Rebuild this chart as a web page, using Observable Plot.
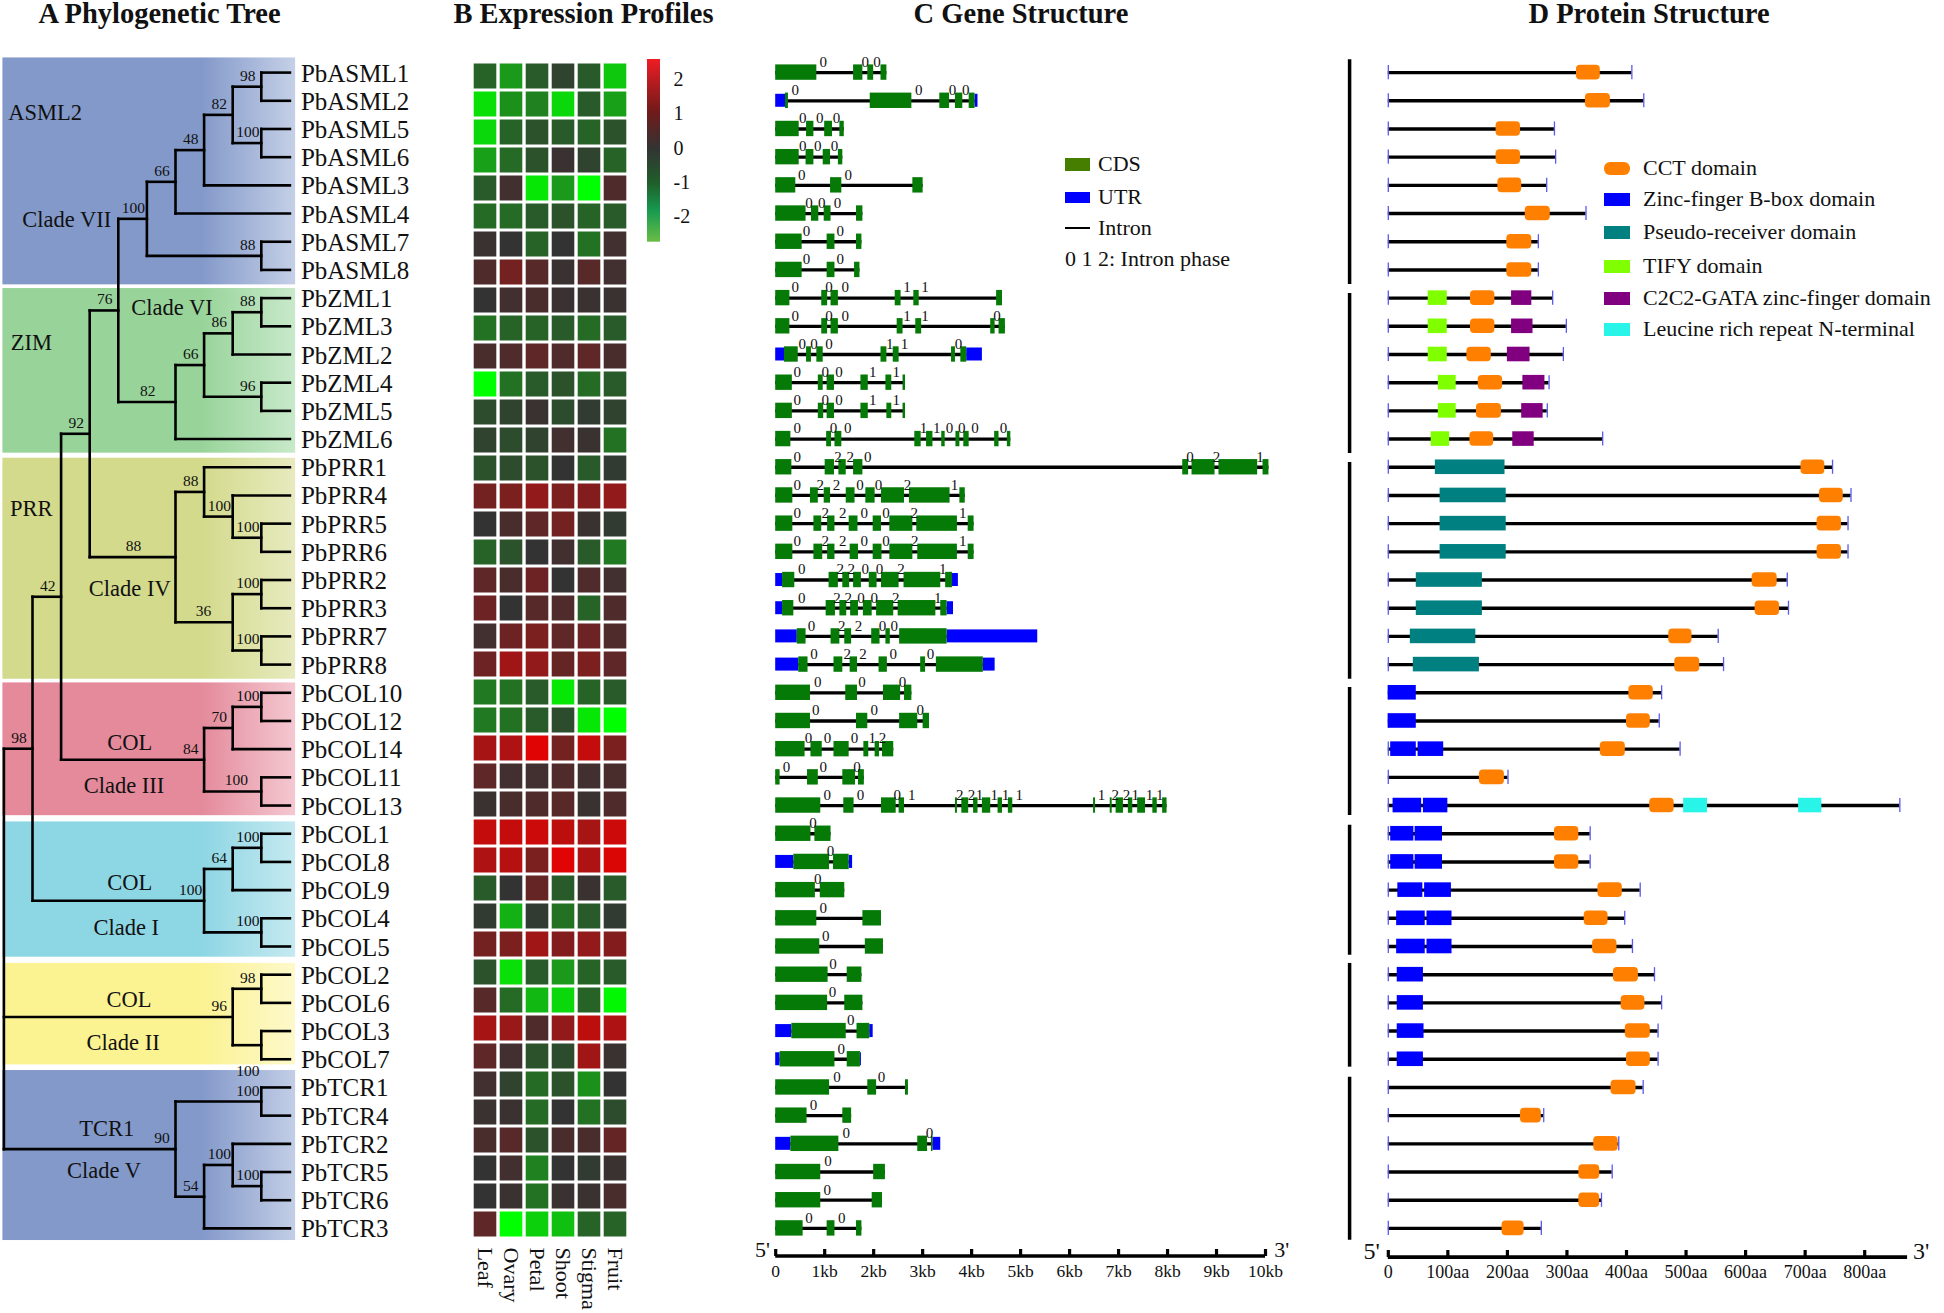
<!DOCTYPE html>
<html><head><meta charset="utf-8">
<script src="https://cdn.jsdelivr.net/npm/d3@7"></script>
<script src="https://cdn.jsdelivr.net/npm/@observablehq/plot@0.6"></script>
<style>
html,body{margin:0;padding:0;background:#fff;width:1944px;height:1313px;overflow:hidden;font-family:"Liberation Serif",serif;color:#111}
#page{position:relative;width:1944px;height:1313px}
.panel{position:absolute;top:0}
.title{position:absolute;top:-3px;transform:translateX(-50%);font-weight:bold;font-size:28.5px;white-space:nowrap;line-height:34px}
.lg{position:absolute;font-size:22px;line-height:26px;white-space:nowrap}
.sw{position:absolute}
</style></head><body><div id="page"></div>
<script>
// ---------- rows ----------
const genes = ["PbASML1","PbASML2","PbASML5","PbASML6","PbASML3","PbASML4","PbASML7","PbASML8",
"PbZML1","PbZML3","PbZML2","PbZML4","PbZML5","PbZML6",
"PbPRR1","PbPRR4","PbPRR5","PbPRR6","PbPRR2","PbPRR3","PbPRR7","PbPRR8",
"PbCOL10","PbCOL12","PbCOL14","PbCOL11","PbCOL13","PbCOL1","PbCOL8","PbCOL9","PbCOL4","PbCOL5",
"PbCOL2","PbCOL6","PbCOL3","PbCOL7","PbTCR1","PbTCR4","PbTCR2","PbTCR5","PbTCR6","PbTCR3"];
const titles = [["A Phylogenetic Tree",159.5],["B Expression Profiles",583.5],["C Gene Structure",1021],["D Protein Structure",1649]];

// ---------- A: tree  [level, bootstrap, children, label shift in levels, label below] ----------
const N = (level, support, kids, shift = 0, below = false) => ({level, support, kids, shift, below});
const treeRoot = N(0, "", [
  N(1, "98", [
    N(2, "42", [
      N(3, "92", [
        N(4, "76", [
          N(5, "100", [
            N(6, "66", [
              N(7, "48", [
                N(8, "82", [N(9, "98", ["PbASML1","PbASML2"]), N(9, "100", ["PbASML5","PbASML6"])]),
                "PbASML3"]),
              "PbASML4"]),
            N(9, "88", ["PbASML7","PbASML8"])]),
          N(6, "82", [
            N(7, "66", [
              N(8, "86", [N(9, "88", ["PbZML1","PbZML3"]), "PbZML2"]),
              N(9, "96", ["PbZML4","PbZML5"])]),
            "PbZML6"], -0.5)]),
        N(6, "88", [
          N(7, "88", ["PbPRR1", N(8, "100", ["PbPRR4", N(9, "100", ["PbPRR5","PbPRR6"])])]),
          N(8, "36", [N(9, "100", ["PbPRR2","PbPRR3"]), N(9, "100", ["PbPRR7","PbPRR8"])], -0.55)], -1)]),
      N(7, "84", [
        N(8, "70", [N(9, "100", ["PbCOL10","PbCOL12"]), "PbCOL14"]),
        N(9, "100", ["PbCOL11","PbCOL13"], -0.4)])]),
    N(7, "100", [
      N(8, "64", [N(9, "100", ["PbCOL1","PbCOL8"]), "PbCOL9"]),
      N(9, "100", ["PbCOL4","PbCOL5"])])]),
  N(8, "96", [N(9, "98", ["PbCOL2","PbCOL6"]), N(9, "100", ["PbCOL3","PbCOL7"], 0, true)]),
  N(6, "90", [
    N(9, "100", ["PbTCR1","PbTCR4"]),
    N(7, "54", [N(8, "100", ["PbTCR2", N(9, "100", ["PbTCR5","PbTCR6"])]), "PbTCR3"])])
]);
// clade backgrounds: top row, bottom row, solid colour, faded colour
const cladeBands = [
  [-0.52, 7.53, "#8399ca", "#c5d0e7"],
  [7.66, 13.5, "#98d49a", "#c8e9ca"],
  [13.68, 21.52, "#d3da8b", "#e7eabf"],
  [21.65, 26.36, "#e48a9b", "#f4c8d1"],
  [26.58, 31.38, "#8dd6e4", "#c5e9f0"],
  [31.6, 35.2, "#fbf292", "#fdf9cb"],
  [35.4, 41.43, "#8399ca", "#c3cee6"]];
// clade captions: text, level, row
const cladeText = [
  ["ASML2",1.44,1.42],["Clade VII",2.2,5.21],["ZIM",0.96,9.57],["Clade VI",5.88,8.33],
  ["PRR",0.96,15.46],["Clade IV",4.4,18.3],["COL",4.4,23.76],["Clade III",4.2,25.29],
  ["COL",4.4,28.73],["Clade I",4.28,30.33],["COL",4.37,32.88],["Clade II",4.17,34.41],
  ["TCR1",3.6,37.47],["Clade V",3.5,38.96]];

// ---------- B: expression (log scale) ----------
const tissues = ["Leaf","Ovary","Petal","Shoot","Stigma","Fruit"];
const expression = [
[-0.6,-1.3,-0.5,-0.2,-0.5,-1.9],[-2.2,-1.2,-1.0,-2.1,-0.5,-1.4],[-2.1,-0.6,-0.4,-0.5,-0.6,-0.4],[-1.4,-0.7,-0.4,0.1,-0.2,-0.6],
[-0.5,0.2,-2.3,-1.3,-2.6,0.4],[-0.7,-0.7,-0.5,-0.4,-0.6,-0.5],[0.1,0.0,-0.6,0.0,-0.8,0.2],[0.4,0.9,0.5,0.1,0.5,0.2],
[0,0.2,0.3,0.1,0.1,0.1],[-0.8,-0.6,-0.6,-0.5,-0.7,-0.5],[0.3,0.4,0.6,0.4,0.6,0.3],[-2.6,-0.8,-0.5,-0.4,-0.7,-0.5],
[-0.3,-0.2,0.1,-0.3,-0.1,-0.2],[-0.2,-0.3,-0.2,0.2,0.1,-0.8],
[-0.4,-0.3,-0.4,0,-0.5,-0.1],[0.9,1.0,1.3,1.0,1.1,1.3],[0,0.3,0.6,0.9,0.1,-0.1],[-0.6,-0.4,0,0.2,-0.5,-0.9],
[0.6,0.3,0.8,0,0.4,0.2],[0.8,0,0.5,0.4,-0.6,0.4],[0.2,0.8,1.0,0.6,0.8,0.4],[0.8,1.5,1.3,0.7,1.0,0.6],
[-0.9,-0.8,-0.5,-2.3,-0.6,-0.5],[-0.9,-0.8,-0.5,-0.3,-2.3,-2.6],[1.6,1.7,2.4,0.9,2.0,1.0],[0.6,0.2,0.2,0.4,0.2,0.3],[0.1,0.3,0.4,0.5,0.1,0.4],
[2.0,2.0,2.1,1.9,1.6,2.1],[1.7,1.8,1.0,2.4,1.7,2.3],[-0.5,0,0.7,-0.5,0.1,-0.5],[-0.1,-1.6,-0.1,-0.8,-0.5,-0.1],[0.9,1.0,1.5,1.1,1.3,1.1],
[-0.4,-2.2,-0.5,-1.3,-0.6,-0.5],[0.5,-0.7,-1.7,-2.1,-0.6,-2.5],[1.6,1.4,0.4,1.3,1.9,1.7],[0.6,0.2,-0.4,-0.3,1.5,0.1],
[0.2,-0.2,-0.7,-0.4,-1.2,0],[0.1,0.1,-0.7,0,-0.8,-0.3],[0.3,0.5,-0.4,0.3,0.3,0.7],[0,0.2,-1.0,0,-0.1,0.1],[0,0.1,-0.8,0.1,0.1,0.3],[0.6,-2.6,-2.0,-1.8,-0.6,-0.6]];
const colorbarTicks = [-2,-1,0,1,2];

// ---------- C: gene structure (kb) ----------
const geneExons = [
[[0,.84],[1.59,1.78],[1.88,2],[2.15,2.27]],
[[.2,.26],[1.93,2.78],[3.35,3.55],[3.67,3.82],[3.95,4.07]],
[[0,.48],[.63,.78],[1,1.16],[1.31,1.4]],
[[0,.48],[.62,.78],[.97,1.12],[1.28,1.37]],
[[0,.41],[1.12,1.35],[2.8,3.01]],
[[0,.62],[.73,.88],[.99,1.13],[1.65,1.78]],
[[0,.54],[1.05,1.21],[1.65,1.76]],
[[0,.54],[1.05,1.21],[1.61,1.72]],
[[0,.29],[.94,1.06],[1.13,1.28],[2.44,2.56],[2.82,2.93],[4.51,4.63]],
[[0,.29],[.94,1.06],[1.13,1.28],[2.48,2.6],[2.86,2.98],[4.39,4.48],[4.56,4.69]],
[[.18,.46],[.63,.73],[.84,.97],[2.15,2.27],[2.4,2.52],[3.59,3.67],[3.78,3.9]],
[[0,.34],[.87,.97],[1.05,1.2],[1.74,1.89],[2.25,2.37],[2.6,2.65]],
[[0,.34],[.87,.98],[1.05,1.2],[1.74,1.89],[2.27,2.37],[2.6,2.65]],
[[0,.31],[1.04,1.14],[1.21,1.35],[2.84,2.97],[3.08,3.21],[3.39,3.46],[3.68,3.76],[3.84,3.95],[4.47,4.56],[4.73,4.8]],
[[0,.33],[1.01,1.2],[1.29,1.44],[1.59,1.78],[8.31,8.43],[8.5,8.97],[9.05,9.84],[9.95,10.07]],
[[0,.35],[.71,.87],[.99,1.12],[1.44,1.62],[1.84,2.03],[2.16,2.63],[2.73,3.56],[3.76,3.87]],
[[0,.35],[.78,.94],[1.06,1.21],[1.5,1.68],[1.99,2.16],[2.33,2.8],[2.88,3.71],[3.93,4.05]],
[[0,.35],[.78,.96],[1.06,1.21],[1.52,1.69],[1.99,2.17],[2.33,2.8],[2.9,3.71],[3.93,4.05]],
[[.14,.39],[1.09,1.28],[1.37,1.51],[1.59,1.75],[1.91,2.07],[2.16,2.52],[2.62,3.37],[3.47,3.61]],
[[.14,.37],[1.03,1.22],[1.31,1.45],[1.53,1.69],[1.79,1.97],[2.06,2.41],[2.5,3.27],[3.37,3.5]],
[[.44,.62],[1.13,1.31],[1.41,1.55],[1.96,2.13],[2.25,2.34],[2.53,3.5]],
[[.47,.66],[1.19,1.37],[1.52,1.67],[2.11,2.28],[2.96,3.06],[3.28,4.24]],
[[0,.71],[1.43,1.67],[2.2,2.55],[2.63,2.78]],
[[0,.71],[1.65,1.88],[2.53,2.9],[3.01,3.14]],
[[0,.6],[.72,.95],[1.19,1.5],[1.8,1.9],[2.03,2.12],[2.18,2.41]],
[[0,.09],[.65,.87],[1.37,1.63],[1.69,1.81]],
[[0,.92],[1.39,1.6],[2.16,2.46],[2.52,2.63],[3.67,3.71],[3.8,3.94],[4.04,4.13],[4.22,4.39],[4.54,4.63],[4.75,4.84],[6.49,6.53],[6.83,6.87],[6.95,7.1],[7.2,7.29],[7.39,7.55],[7.7,7.79],[7.9,7.99]],
[[0,.72],[.8,1.13]],
[[.37,1.1],[1.18,1.5]],
[[0,.81],[.91,1.41]],
[[0,.84],[1.78,2.16]],
[[0,.9],[1.83,2.2]],
[[0,1.07],[1.46,1.76]],
[[0,1.06],[1.41,1.78]],
[[.33,1.44],[1.66,1.92]],
[[.09,1.21],[1.46,1.73]],
[[0,1.1],[1.88,2.06],[2.65,2.71]],
[[0,.64],[1.37,1.55]],
[[.31,1.29],[2.9,3.1],[3.18,3.21]],
[[0,.92],[2,2.24]],
[[0,.92],[1.97,2.18]],
[[0,.56],[1.05,1.21],[1.65,1.76]]];
// UTR: [gene, start, end]
const geneUtrs = [["PbASML2",0,.2],["PbASML2",4.07,4.13],["PbZML2",0,.18],["PbZML2",3.9,4.22],
["PbPRR2",0,.14],["PbPRR2",3.61,3.73],["PbPRR3",0,.14],["PbPRR3",3.5,3.63],["PbPRR7",0,.44],["PbPRR7",3.5,5.35],
["PbPRR8",0,.47],["PbPRR8",4.24,4.48],["PbCOL8",0,.37],["PbCOL8",1.5,1.57],["PbCOL3",0,.33],["PbCOL3",1.92,1.99],
["PbCOL7",0,.09],["PbCOL7",1.73,1.75],["PbTCR2",0,.31],["PbTCR2",3.21,3.37]];
const phasePositions = [
[.97,1.83,2.07],[.4,2.92,3.61,3.88],[.55,.9,1.24],[.55,.86,1.2],[.53,1.48],[.68,.94,1.26],[.63,1.32],[.63,1.32],
[.4,1.09,1.42,2.68,3.05],[.4,1.09,1.42,2.68,3.05,4.52],[.54,.78,1.09,2.33,2.63,3.73],[.44,1.01,1.29,1.98,2.46],[.44,1.01,1.29,1.98,2.46],
[.44,1.18,1.47,3.02,3.29,3.55,3.8,4.07,4.65],
[.44,1.27,1.52,1.88,8.46,9,9.89],[.44,.91,1.24,1.72,2.1,2.69,3.65],[.44,1.01,1.37,1.81,2.25,2.83,3.82],[.44,1.01,1.37,1.81,2.25,2.84,3.82],
[.53,1.32,1.54,1.83,2.12,2.56,3.41],[.53,1.25,1.48,1.74,2.01,2.45,3.31],[.73,1.35,1.69,2.18,2.42],[.78,1.46,1.78,2.4,3.16],
[.86,1.76,2.59],[.82,2.01,2.95],[.67,1.06,1.61,1.97,2.18],[.22,.97,1.66],
[1.05,1.73,2.48,2.78,3.76,4,4.16,4.46,4.69,4.97,6.65,6.93,7.16,7.34,7.63,7.84],
[.76],[1.12],[.86],[.97],[1.02],[1.17],[1.16],[1.53],[1.34],[1.25,2.16],[.77],[1.44,3.14],[1.07],[1.05],[.68,1.35]];
const phaseDigits = ["000","0000","000","000","00","000","00","00","00011","000110","000110","00011","00011","000110000".replace("000110000","000110000"),
"0220021","0220021","0220021","0220021","0220021","0220021","02200","02200","000","000","00012","000","0001221111122111",
"0","0","0","0","0","0","0","0","0","00","0","00","0","0","00"];
const kbTicks = [0,1,2,3,4,5,6,7,8,9,10];

// ---------- D: protein structure (aa) ----------
const proteinLength = [409,429,279,281,266,332,252,252,276,299,294,270,267,360,746,777,772,772,670,672,554,563,459,455,490,201,859,339,339,423,397,410,447,459,453,453,428,261,387,376,358,257];
const cctDomain = [[316,356],[331,373],[181,222],[181,222],[184,224],[230,272],[199,241],[199,241],[138,179],[138,179],[132,173],[151,192],[148,190],[137,177],
[693,733],[724,764],[720,761],[720,761],[611,653],[616,657],[471,510],[481,523],[404,445],[400,440],[356,398],[153,195],[439,480],[279,320],[279,320],[352,393],[329,369],[343,384],
[378,420],[391,431],[398,440],[400,440],[374,416],[222,257],[345,386],[320,355],[320,355],[191,228]];
const bboxDomain = [["PbCOL10",0,47],["PbCOL12",0,47],["PbCOL14",4,47],["PbCOL14",50,93],["PbCOL13",8,56],["PbCOL13",59,100],["PbCOL1",4,43],["PbCOL1",45,91],["PbCOL8",4,43],["PbCOL8",45,91],
["PbCOL9",16,58],["PbCOL9",61,106],["PbCOL4",14,62],["PbCOL4",65,107],["PbCOL5",14,62],["PbCOL5",65,107],["PbCOL2",15,59],["PbCOL6",15,59],["PbCOL3",15,60],["PbCOL7",15,59]];
const receiverDomain = [["PbPRR1",79,196],["PbPRR4",87,198],["PbPRR5",87,198],["PbPRR6",87,198],["PbPRR2",47,158],["PbPRR3",47,158],["PbPRR7",37,147],["PbPRR8",42,153]];
const tifyDomain = [["PbZML1",67,99],["PbZML3",67,99],["PbZML2",67,99],["PbZML4",84,114],["PbZML5",84,114],["PbZML6",72,103]];
const gataDomain = [["PbZML1",207,241],["PbZML3",207,243],["PbZML2",200,238],["PbZML4",226,263],["PbZML5",224,260],["PbZML6",209,245]];
const lrrDomain = [["PbCOL13",496,536],["PbCOL13",689,728]];
const groupBars = [[-0.46,7.52],[7.84,13.51],[13.83,21.52],[21.81,26.35],[26.7,31.31],[31.6,35.28],[35.64,41.42]];
const aaTicks = [0,100,200,300,400,500,600,700,800];

// colours
const CDS="#067a06", UTR="#0000ff", CCT="#ff8000", BBOX="#0000ff", RECV="#008080", TIFY="#80ff00", GATA="#800080", LRR="#28f5e8";
const serif = "Liberation Serif";
const page = document.getElementById("page");
const rowOf = new Map(genes.map((g,i)=>[g,i]));
const rowScale = {domain:[-0.5,41.5], range:[58,1242], axis:null};
function place(node,left,top=0){const d=document.createElement("div");d.className="panel";d.style.left=left+"px";d.style.top=top+"px";d.appendChild(node);page.appendChild(d);}

// ---------- build tree ----------
const treeLinks=[], treeLabels=[], treeNodes=[];
(function layout(n){
  if(typeof n==="string") return {row:rowOf.get(n),level:10};
  const cs=n.kids.map(layout);
  const row=(cs[0].row+cs[cs.length-1].row)/2;
  treeLinks.push({x1:n.level,x2:n.level,y1:cs[0].row,y2:cs[cs.length-1].row});
  cs.forEach(c=>treeLinks.push({x1:n.level,x2:c.level,y1:c.row,y2:c.row}));
  if(n.support) treeLabels.push({x:n.level-0.47+n.shift,y:row+(n.below?1.32:0),text:n.support});
  return {row,level:n.level};
})(treeRoot);

function gradientDefs(){
  const defs=d3.create("svg:defs");
  cladeBands.forEach((c,i)=>{
    const g=defs.append("linearGradient").attr("id","clade"+i);
    g.append("stop").attr("offset","68%").attr("stop-color",c[2]);
    g.append("stop").attr("offset","100%").attr("stop-color",c[3]);
  });
  return defs.node();
}
place(Plot.plot({
  width:440,height:1313,margin:0,style:{fontFamily:serif,background:"transparent",color:"#111"},
  x:{domain:[0,10],range:[3.4,289.4],axis:null}, y:rowScale,
  marks:[
    gradientDefs,
    ...cladeBands.map((c,i)=>Plot.rect([c],{x1:-0.035,x2:10.2,y1:d=>d[0],y2:d=>d[1],fill:`url(#clade${i})`})),
    Plot.link(treeLinks,{x1:"x1",x2:"x2",y1:"y1",y2:"y2",stroke:"#000",strokeWidth:2.6,strokeLinecap:"square"}),
    Plot.text(treeLabels,{x:"x",y:"y",text:"text",dy:-11,fontSize:15.5,fill:"#111"}),
    Plot.text(cladeText,{x:d=>d[1],y:d=>d[2],text:d=>d[0],fontSize:22.5,fill:"#111"}),
    Plot.text(genes,{x:10,y:(d,i)=>i,text:d=>d,textAnchor:"start",dx:11,dy:1,fontSize:25,fill:"#111"})
  ]
}),0);

// ---------- heatmap ----------
const heatCells = expression.flatMap((r,i)=>r.map((v,j)=>({gene:genes[i],tissue:tissues[j],value:v})));
place(Plot.plot({
  width:200,height:1313,marginTop:59.6,marginBottom:73,marginLeft:0,marginRight:0,
  style:{fontFamily:serif,background:"transparent",color:"#111"},
  x:{type:"band",domain:tissues,range:[31.6,189],padding:0,axis:null},
  y:{type:"band",domain:genes,range:[59.6,1240],padding:0,axis:null},
  color:{type:"linear",domain:[-2.6,0,2.6],range:["#00ff00","#333333","#f00000"],interpolate:"rgb"},
  marks:[
    Plot.cell(heatCells,{x:"tissue",y:"gene",fill:"value",insetLeft:1.7,insetRight:1.7,insetTop:1.5,insetBottom:1.5}),
    Plot.axisX({anchor:"bottom",tickSize:0,tickPadding:7,tickRotate:90,fontSize:22,label:null})
  ]
}),440);

// colour bar
function colorbarDefs(){
  const defs=d3.create("svg:defs");
  const g=defs.append("linearGradient").attr("id","cbar").attr("x1",0).attr("x2",0).attr("y1",0).attr("y2",1);
  [[0,"#f01c24"],[.12,"#b81c20"],[.29,"#701a1a"],[.49,"#333333"],[.68,"#1f5f2a"],[.83,"#179a50"],[1,"#6abd45"]]
    .forEach(([o,c])=>g.append("stop").attr("offset",o).attr("stop-color",c));
  return defs.node();
}
place(Plot.plot({
  width:80,height:300,marginTop:59,marginBottom:58.3,marginLeft:7,marginRight:60,
  style:{fontFamily:serif,background:"transparent",color:"#111"},
  x:{domain:[0,1],axis:null},
  y:{domain:[-2.74,2.58]},
  marks:[
    colorbarDefs,
    Plot.rect([0],{x1:0,x2:1,y1:-2.74,y2:2.58,fill:"url(#cbar)"}),
    Plot.axisY(colorbarTicks,{anchor:"right",tickSize:0,tickPadding:13,fontSize:20,label:null,tickFormat:d=>String(d)})
  ]
}),640);

// ---------- gene structure ----------
const exonRows = geneExons.flatMap((ex,i)=>ex.map(e=>({row:i,x1:e[0],x2:e[1]})));
const utrRows = geneUtrs.map(u=>({row:rowOf.get(u[0]),x1:u[1],x2:u[2]}));
const intronRows = geneExons.map((ex,i)=>({row:i,x1:ex[0][0],x2:ex[ex.length-1][1]}));
const phaseRows = phasePositions.flatMap((p,i)=>p.map((x,j)=>({row:i,x,text:phaseDigits[i][j]})));
place(Plot.plot({
  width:600,height:1313,marginTop:58,marginBottom:57,marginLeft:0,marginRight:0,
  style:{fontFamily:serif,background:"transparent",color:"#111"},
  x:{domain:[0,10],range:[35.2,525]}, y:rowScale,
  marks:[
    Plot.rect(utrRows,{x1:"x1",x2:"x2",y1:d=>d.row-.5,y2:d=>d.row+.5,fill:UTR,insetTop:7.6,insetBottom:7.6}),
    Plot.ruleY(intronRows,{x1:"x1",x2:"x2",y:"row",stroke:"#000",strokeWidth:3.3}),
    Plot.rect(exonRows,{x1:"x1",x2:"x2",y1:d=>d.row-.5,y2:d=>d.row+.5,fill:CDS,insetTop:6.4,insetBottom:6.4}),
    Plot.text(phaseRows,{x:"x",y:"row",text:"text",dy:-10.5,fontSize:15,fill:"#111"}),
    Plot.ruleY([41.98],{x1:0,x2:10,stroke:"#000",strokeWidth:3.4}),
    Plot.axisX({anchor:"bottom",ticks:kbTicks,tickSize:-7,tickPadding:15,stroke:"#000",strokeWidth:3.2,fontSize:17.5,label:null,tickFormat:d=>d===0?"0":d+"kb"}),
    Plot.text(["5'"],{x:-0.27,y:41.75,text:d=>d,fontSize:22}),
    Plot.text(["3'"],{x:10.33,y:41.75,text:d=>d,fontSize:22})
  ]
}),740);

// ---------- protein structure ----------
const proteinRows = proteinLength.map((len,i)=>({row:i,len}));
const dom = (list)=>list.map(d=>({row:rowOf.get(d[0]),x1:d[1],x2:d[2]}));
const cctRows = cctDomain.map((d,i)=>({row:i,x1:d[0],x2:d[1]}));
const domRect = (rows,fill)=>Plot.rect(rows,{x1:"x1",x2:"x2",y1:d=>d.row-.5,y2:d=>d.row+.5,fill,insetTop:6.8,insetBottom:6.8});
place(Plot.plot({
  width:604,height:1313,marginTop:58,marginBottom:56,marginLeft:0,marginRight:0,
  style:{fontFamily:serif,background:"transparent",color:"#111"},
  x:{domain:[0,800],range:[47.8,524.2]}, y:rowScale,
  marks:[
    Plot.ruleX(groupBars,{x:-65,y1:d=>d[0],y2:d=>d[1],stroke:"#000",strokeWidth:3.5}),
    Plot.ruleY(proteinRows,{x1:0,x2:"len",y:"row",stroke:"#000",strokeWidth:3.4}),
    Plot.ruleX(proteinRows,{x:0,y1:d=>d.row-.25,y2:d=>d.row+.25,stroke:"#5a5af0",strokeWidth:1.3}),
    Plot.ruleX(proteinRows,{x:"len",y1:d=>d.row-.25,y2:d=>d.row+.25,stroke:"#5a5af0",strokeWidth:1.3}),
    domRect(dom(receiverDomain),RECV),
    domRect(dom(bboxDomain),BBOX),
    domRect(dom(tifyDomain),TIFY),
    domRect(dom(gataDomain),GATA),
    domRect(dom(lrrDomain),LRR),
    Plot.rect(cctRows,{x1:"x1",x2:"x2",y1:d=>d.row-.5,y2:d=>d.row+.5,fill:CCT,insetTop:6.8,insetBottom:6.8,rx:4}),
    Plot.ruleY([42.02],{x1:0,x2:872,stroke:"#000",strokeWidth:3.6}),
    Plot.axisX({anchor:"bottom",ticks:aaTicks,tickSize:-7,tickPadding:15,stroke:"#000",strokeWidth:3.2,fontSize:18,label:null,tickFormat:d=>d===0?"0":d+"aa"}),
    Plot.text(["5'"],{x:-28,y:41.8,text:d=>d,fontSize:24}),
    Plot.text(["3'"],{x:895,y:41.8,text:d=>d,fontSize:24})
  ]
}),1340);

// ---------- titles and legends ----------
titles.forEach(([t,x])=>{const d=document.createElement("div");d.className="title";d.textContent=t;d.style.left=x+"px";page.appendChild(d);});
function swatch(x,y,w,h,c,r=0){const d=document.createElement("div");d.className="sw";d.style.cssText=`left:${x}px;top:${y-h/2}px;width:${w}px;height:${h}px;background:${c};border-radius:${r}px`;page.appendChild(d);}
function legendText(x,y,t){const d=document.createElement("div");d.className="lg";d.textContent=t;d.style.left=x+"px";d.style.top=(y-13)+"px";page.appendChild(d);}
swatch(1065,164,25,13,"#467f00");legendText(1098,164,"CDS");
swatch(1065,197,25,11,"#0000ff");legendText(1098,197,"UTR");
swatch(1065,228,25,2.6,"#000");legendText(1098,228,"Intron");
legendText(1065,259,"0 1 2: Intron phase");
[["CCT domain",168,CCT,6],["Zinc-finger B-box domain",199,BBOX,0],["Pseudo-receiver domain",232,RECV,0],
 ["TIFY domain",266,TIFY,0],["C2C2-GATA zinc-finger domain",298,GATA,0],["Leucine rich repeat N-terminal",329,LRR,0]]
 .forEach(([t,y,c,r])=>{swatch(1604,y,26,13,c,r);legendText(1643,y,t);});
</script></body></html>
